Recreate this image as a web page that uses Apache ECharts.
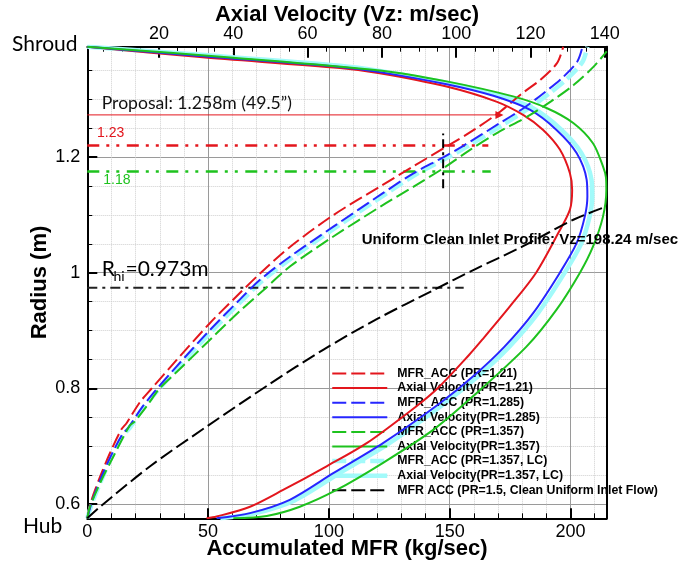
<!DOCTYPE html>
<html>
<head>
<meta charset="utf-8">
<title>Radius vs MFR / Axial Velocity</title>
<script src="https://cdn.jsdelivr.net/npm/echarts@6/dist/echarts.min.js"></script>
<style>
  html, body { margin: 0; padding: 0; background: #fff; }
  #chart { width: 678px; height: 567px; }
</style>
</head>
<body>
<div id="chart"></div>
<script>
// 累计质量流量曲线 [MFR (kg/sec), Radius (m)]
var mfrAcc121 = [[0,0.575],[1.8,0.607],[5.3,0.647],[9.4,0.688],[14,0.728],[16.3,0.740],[21.8,0.776],[26.7,0.8],[37,0.849],[50.8,0.913],[61.5,0.958],[71.6,0.999],[84,1.045],[102,1.100],[121.5,1.150],[135,1.184],[149,1.219],[160,1.247],[171,1.279],[179.3,1.308],[187.6,1.334],[194.5,1.363],[197,1.391]];
var mfrAcc1285 = [[0,0.575],[2,0.605],[5.5,0.643],[9.8,0.683],[14.5,0.72],[17,0.732],[22.5,0.766],[27.4,0.792],[37,0.838],[50.8,0.901],[63,0.953],[71.6,0.988],[84,1.028],[102,1.080],[122.5,1.138],[135,1.172],[147.5,1.200],[155.8,1.220],[169.7,1.256],[180.7,1.285],[189,1.311],[196.6,1.337],[202.8,1.365],[205,1.391]];
var mfrAcc1357 = [[0,0.575],[1.1,0.595],[5.3,0.636],[10.8,0.682],[17.5,0.735],[19.5,0.742],[24.6,0.769],[30,0.8],[37,0.828],[50.8,0.884],[62.5,0.931],[73,0.970],[84,1.011],[102,1.063],[122,1.116],[135.1,1.149],[147.5,1.181],[158.6,1.213],[169.7,1.242],[182.1,1.270],[191.8,1.296],[201.4,1.325],[209.7,1.357],[215,1.383]];
var mfrAcc1357LC = [[0,0.575],[2.3,0.605],[6,0.643],[10.3,0.683],[15,0.72],[17.5,0.731],[23.2,0.766],[28.3,0.792],[38,0.838],[52,0.901],[64.3,0.953],[73,0.988],[85.5,1.028],[103.5,1.080],[124.2,1.138],[136.8,1.172],[149.5,1.200],[158,1.220],[172,1.256],[183,1.285],[191.5,1.311],[199,1.337],[205,1.365],[207,1.391]];
var mfrAcc15 = [[0,0.575],[5.3,0.595],[26,0.665],[49.5,0.734],[75,0.806],[97.8,0.867],[120,0.92],[143.4,0.970],[160,1.005],[180,1.045],[201.4,1.092],[215.2,1.115]];

// 轴向速度曲线 [Vz (m/sec), Radius (m)]
var vel121 = [[32.8,0.575],[35.5,0.578],[44.5,0.595],[53.4,0.624],[65.1,0.665],[75.9,0.705],[89.3,0.769],[95,0.8],[103.5,0.858],[107,0.884],[114.5,0.942],[121.5,1.0],[127.5,1.069],[130.6,1.109],[131.2,1.143],[130.6,1.172],[127.9,1.213],[123.4,1.247],[118,1.273],[110.8,1.296],[97.4,1.322],[79.4,1.345],[68.7,1.354],[31,1.373],[0.7,1.391]];
var vel1285 = [[35.5,0.575],[44.5,0.584],[55.2,0.607],[66.9,0.653],[80.3,0.705],[95.6,0.774],[104.8,0.822],[113,0.872],[120.7,0.930],[127.9,1.0],[132.4,1.051],[134.6,1.097],[135.3,1.132],[135.1,1.161],[132.4,1.207],[127,1.247],[119.8,1.282],[110,1.306],[97.4,1.326],[79.4,1.347],[68.7,1.356],[31,1.375],[0.7,1.391]];
var vel1357 = [[40,0.575],[49,0.579],[57.9,0.595],[67.8,0.624],[80.3,0.671],[93.8,0.728],[104.5,0.786],[118.9,0.872],[127,0.936],[133.3,1.0],[136.8,1.045],[139.5,1.097],[140.4,1.143],[140.3,1.165],[139.5,1.184],[136.8,1.224],[131.5,1.259],[124.3,1.285],[115.3,1.305],[97.4,1.331],[79.4,1.350],[40,1.372],[0.7,1.391]];
var vel1357LC = [[36.5,0.575],[45.5,0.583],[56.5,0.606],[68.3,0.652],[81.8,0.704],[96.9,0.774],[106.1,0.822],[114.3,0.872],[122,0.930],[129.2,1.0],[133.7,1.051],[135.9,1.097],[136.6,1.132],[136.4,1.161],[133.7,1.207],[128.2,1.248],[120.8,1.284],[111,1.308],[98,1.328],[79.4,1.349],[68.7,1.358],[31,1.377],[0.7,1.391]];

// 参考线 [MFR, Radius]
var proposalLine = [[0,1.273],[170.6,1.273]];
var line123 = [[0,1.220],[166,1.220]];
var line118 = [[0,1.175],[167,1.175]];
var rhiLine = [[0,0.974],[155.8,0.974]];
var mfrCutLine = [[147.3,1.146],[147.3,1.241]];

var seriesNames = ['MFR_ACC (PR=1.21)','Axial Velocity(PR=1.21)','MFR_ACC (PR=1.285)','Axial Velocity(PR=1.285)',
    'MFR_ACC (PR=1.357)','Axial Velocity(PR=1.357)','MFR_ACC (PR=1.357, LC)','Axial Velocity(PR=1.357, LC)',
    'MFR ACC (PR=1.5, Clean Uniform Inlet Flow)'];

var RED = '#e3161d', BLUE = '#2626ff', GREEN = '#1ec21e', CYAN = '#a2fafa';
var ARIAL = 'Liberation Sans', CALIBRI = 'Lato';

function curve(name, data, axis, color, dashed, width, z){
    return {
        name: name,
        type: 'line',
        xAxisIndex: axis,
        yAxisIndex: 0,
        data: data,
        symbol: 'none',
        smooth: 0.3,
        z: z,
        lineStyle: {color: color, width: width, type: dashed ? [14,5] : 'solid'},
        itemStyle: {color: color},
        emphasis: {disabled: true}
    };
}

function refLine(data, color, width, type){
    return {
        type: 'line',
        xAxisIndex: 0,
        yAxisIndex: 0,
        data: data,
        symbol: 'none',
        z: 3,
        lineStyle: {color: color, width: width, type: type},
        emphasis: {disabled: true}
    };
}

var chart = echarts.init(document.getElementById('chart'));

// 终点三角形箭头
var proposalData = proposalLine.map(function(p, i){
    if(i === proposalLine.length - 1){
        return {value: p, symbol: 'triangle', symbolRotate: -90, symbolSize: [8,8]};
    }
    return {value: p, symbol: 'none'};
});

var option = {
    animation: false,
    backgroundColor: '#fff',
    grid: {left: 87.3, right: 71.3, top: 46.7, bottom: 48.7, containLabel: false, outerBoundsMode: 'none'},
    legend: {
        orient: 'vertical',
        left: 330,
        top: 367.5,
        padding: 0,
        itemWidth: 55,
        itemHeight: 12,
        itemGap: 2.6,
        data: seriesNames,
        selectedMode: false,
        itemStyle: {opacity: 0, borderWidth: 0},
        lineStyle: {width: 'inherit'},
        textStyle: {fontFamily: ARIAL, fontWeight: 'bold', fontSize: 12.3, color: '#000', lineHeight: 12, padding: [0,0,0,5]}
    },
    xAxis: [
        {
            type: 'value', position: 'bottom', min: 0, max: 215, splitNumber: 4,
            name: 'Accumulated MFR (kg/sec)', nameLocation: 'middle', nameGap: 20, nameMoveOverlap: false,
            nameTextStyle: {fontFamily: ARIAL, fontWeight: 'bold', fontSize: 22, color: '#000'},
            axisLine: {show: true, onZero: false, lineStyle: {color: '#000', width: 2}},
            axisTick: {show: true, inside: true, length: 10, lineStyle: {color: '#000', width: 2}},
            minorTick: {show: true, splitNumber: 5, length: 5, lineStyle: {color: '#000', width: 1}},
            axisLabel: {fontFamily: ARIAL, fontSize: 18, color: '#000', margin: 5, showMaxLabel: false},
            splitLine: {show: true, lineStyle: {color: '#9a9a9a', width: 1}},
            minorSplitLine: {show: true, lineStyle: {color: '#cfcfcf', width: 1, type: 'dotted'}}
        },
        {
            type: 'value', position: 'top', min: 0.7, max: 140.5, splitNumber: 7,
            name: 'Axial Velocity (Vz: m/sec)', nameLocation: 'middle', nameGap: 21, nameMoveOverlap: false,
            nameTextStyle: {fontFamily: ARIAL, fontWeight: 'bold', fontSize: 22, color: '#000'},
            axisLine: {show: true, onZero: false, lineStyle: {color: '#000', width: 2}},
            axisTick: {show: true, inside: true, length: 11, lineStyle: {color: '#000', width: 2}},
            minorTick: {show: true, splitNumber: 4, length: 5, lineStyle: {color: '#000', width: 1}},
            axisLabel: {fontFamily: ARIAL, fontSize: 18, color: '#000', margin: 4, showMinLabel: false, showMaxLabel: false},
            splitLine: {show: false}
        }
    ],
    yAxis: [
        {
            type: 'value', position: 'left', min: 0.575, max: 1.391, splitNumber: 4,
            name: 'Radius (m)', nameLocation: 'middle', nameGap: 36, nameMoveOverlap: false,
            nameTextStyle: {fontFamily: ARIAL, fontWeight: 'bold', fontSize: 22, color: '#000'},
            axisLine: {show: true, onZero: false, lineStyle: {color: '#000', width: 2}},
            axisTick: {show: true, inside: true, length: 10, lineStyle: {color: '#000', width: 2}},
            minorTick: {show: true, splitNumber: 4, length: 5, lineStyle: {color: '#000', width: 1}},
            axisLabel: {fontFamily: ARIAL, fontSize: 18, color: '#000', margin: 7, showMinLabel: false, showMaxLabel: false},
            splitLine: {show: true, lineStyle: {color: '#9a9a9a', width: 1}},
            minorSplitLine: {show: true, lineStyle: {color: '#cfcfcf', width: 1, type: 'dotted'}}
        },
        {
            type: 'value', position: 'right', min: 0.575, max: 1.391,
            axisLine: {show: true, onZero: false, lineStyle: {color: '#000', width: 2}},
            axisTick: {show: false}, axisLabel: {show: false}, splitLine: {show: false}
        }
    ],
    series: [
        curve(seriesNames[0], mfrAcc121, 0, RED, true, 2, 4),
        curve(seriesNames[1], vel121, 1, RED, false, 2, 4),
        curve(seriesNames[2], mfrAcc1285, 0, BLUE, true, 2, 4),
        curve(seriesNames[3], vel1285, 1, BLUE, false, 2, 4),
        curve(seriesNames[4], mfrAcc1357, 0, GREEN, true, 2, 4),
        curve(seriesNames[5], vel1357, 1, GREEN, false, 2, 4),
        curve(seriesNames[6], mfrAcc1357LC, 0, CYAN, true, 4.5, 2),
        curve(seriesNames[7], vel1357LC, 1, CYAN, false, 4.5, 2),
        curve(seriesNames[8], mfrAcc15, 0, '#000', true, 2, 4),
        refLine(line123, RED, 2.5, [12,7,3,7,3,7.5]),
        refLine(line118, GREEN, 2.5, [12,7,3,7,3,7.5]),
        refLine(rhiLine, '#222', 2, [10,5,3,5]),
        refLine(mfrCutLine, '#000', 2, [9,4,3,4]),
        {
            type: 'line', xAxisIndex: 0, yAxisIndex: 0, data: proposalData, z: 3,
            lineStyle: {color: RED, width: 1}, itemStyle: {color: RED},
            emphasis: {disabled: true}
        }
    ],
    graphic: [
        {type: 'text', x: 12, y: 44.5, style: {text: 'Shroud', fontFamily: CALIBRI, fontSize: 21, fill: '#000', verticalAlign: 'middle'}},
        {type: 'text', x: 23, y: 526, style: {text: 'Hub', fontFamily: CALIBRI, fontSize: 21, fill: '#000', verticalAlign: 'middle'}},
        {type: 'text', x: 101.7, y: 103.5, z: 10, style: {text: 'Proposal: 1.258m (49.5\u201d)', fontFamily: CALIBRI, fontSize: 17.6, fill: '#111', verticalAlign: 'middle'}},
        {type: 'text', x: 97, y: 133.3, z: 10, style: {text: '1.23', fontFamily: ARIAL, fontSize: 14, fill: RED, verticalAlign: 'middle'}},
        {type: 'text', x: 103.3, y: 180, z: 10, style: {text: '1.18', fontFamily: ARIAL, fontSize: 14, fill: GREEN, verticalAlign: 'middle'}},
        {type: 'text', x: 101.7, y: 269.5, z: 10, style: {text: 'R', fontFamily: CALIBRI, fontSize: 21, fill: '#000', verticalAlign: 'middle'}},
        {type: 'text', x: 113.5, y: 276.5, z: 10, style: {text: 'hi', fontFamily: CALIBRI, fontSize: 14, fill: '#000', verticalAlign: 'middle'}},
        {type: 'text', x: 125.5, y: 269.5, z: 10, style: {text: '=0.973m', fontFamily: CALIBRI, fontSize: 21, fill: '#000', verticalAlign: 'middle'}},
        {type: 'text', x: 361.7, y: 239.5, z: 10, style: {text: 'Uniform Clean Inlet Profile: Vz=198.24 m/sec', fontFamily: ARIAL, fontWeight: 'bold', fontSize: 15, fill: '#000', verticalAlign: 'middle'}}
    ]
};
chart.setOption(option);
</script>
</body>
</html>
